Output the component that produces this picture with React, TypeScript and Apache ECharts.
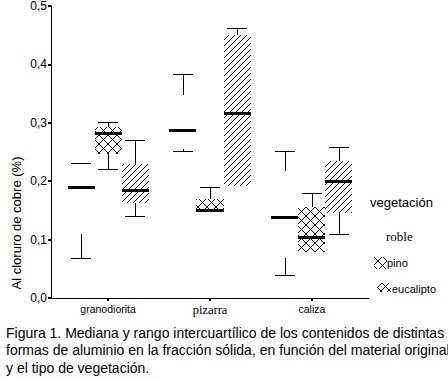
import React, { useEffect, useRef } from 'react';
import * as echarts from 'echarts';

// ---- data ----
const categories = ['granodiorita', 'pizarra', 'caliza'];
const serifCategories = ['pizarra'];
const vegetation = ['roble', 'pino', 'eucalipto'];
// each row: [min, Q1, median, Q3, max]
const robleBoxes = [
  [0.069, 0.109, 0.19, 0.229, 0.231],
  [0.252, 0.255, 0.287, 0.347, 0.383],
  [0.04, 0.069, 0.139, 0.218, 0.252],
];
const pinoBoxes = [
  [0.221, 0.247, 0.282, 0.292, 0.301],
  [0.149, 0.149, 0.151, 0.17, 0.19],
  [0.078, 0.078, 0.105, 0.155, 0.18],
];
const eucaliptoBoxes = [
  [0.141, 0.163, 0.185, 0.229, 0.27],
  [0.192, 0.192, 0.316, 0.451, 0.463],
  [0.11, 0.146, 0.2, 0.235, 0.258],
];
const yAxisTitle = 'Al cloruro de cobre (%)';
const legendTitle = 'vegetación';
const captionLines = [
  'Figura 1. Mediana y rango intercuartílico de los contenidos de distintas',
  'formas de aluminio en la fracción sólida, en función del material original',
  'y el tipo de vegetación.',
];

// ---- styling ----
const SANS = '"Liberation Sans", Arial, sans-serif';
const SERIF = '"Liberation Serif", "Times New Roman", serif';
const BOX_W = 0.265;
const CAP_W = 0.2;
const OFFSETS = [-0.265, 0, 0.265];
const HATCH = ['none', 'cross', 'diag'];

function hatch(x0: number, y0: number, x1: number, y1: number, step: number, dir: string) {
  const segs: number[][] = [];
  if (dir === '/') {
    const cStart = Math.ceil((x0 + y0) / step) * step;
    for (let c = cStart; c <= x1 + y1; c += step) {
      const xa = Math.max(x0, c - y1);
      const xb = Math.min(x1, c - y0);
      if (xb > xa) segs.push([xa, c - xa, xb, c - xb]);
    }
  } else {
    const cStart = Math.ceil((x0 - y1) / step) * step;
    for (let c = cStart; c <= x1 - y0; c += step) {
      const xa = Math.max(x0, c + y0);
      const xb = Math.min(x1, c + y1);
      if (xb > xa) segs.push([xa, xa - c, xb, xb - c]);
    }
  }
  return segs.map((s) => ({
    type: 'line',
    shape: { x1: s[0], y1: s[1], x2: s[2], y2: s[3] },
    style: { stroke: '#000', lineWidth: 1 },
    silent: true,
  }));
}

function hatchFor(kind: string, x0: number, y0: number, x1: number, y1: number) {
  if (kind === 'cross') return [...hatch(x0, y0, x1, y1, 9, '/'), ...hatch(x0, y0, x1, y1, 9, '\\')];
  if (kind === 'diag') return hatch(x0, y0, x1, y1, 6, '/');
  return [];
}

const line = (x1: number, y1: number, x2: number, y2: number) => ({
  type: 'line',
  shape: { x1, y1, x2, y2 },
  style: { stroke: '#000', lineWidth: 1 },
});

function makeRenderer(kind: string, offset: number) {
  return (params: any, api: any) => {
    const xi = api.value(0);
    const unit = api.size([1, 0])[0];
    const cx = api.coord([xi, 0])[0] + offset * unit;
    const bw = BOX_W * unit;
    const cw = CAP_W * unit;
    const y = [1, 2, 3, 4, 5].map((d) => api.coord([xi, api.value(d)])[1]);
    const [yMin, yQ1, yMed, yQ3, yMax] = y;
    const x0 = Math.round(cx - bw / 2);
    const x1 = Math.round(cx + bw / 2);
    const xc = Math.round(cx) + 0.5;
    const children: any[] = [];
    children.push(...hatchFor(kind, x0, Math.round(yQ3), x1, Math.round(yQ1)));
    if (api.value(5) > api.value(4)) {
      const yy = Math.round(yMax) + 0.5;
      children.push(line(xc, yy, xc, Math.round(yQ3)));
      children.push(line(Math.round(cx - cw / 2), yy, Math.round(cx + cw / 2), yy));
    }
    if (api.value(1) < api.value(2)) {
      const yy = Math.round(yMin) + 0.5;
      children.push(line(xc, yy, xc, Math.round(yQ1)));
      children.push(line(Math.round(cx - cw / 2), yy, Math.round(cx + cw / 2), yy));
    }
    children.push({
      type: 'rect',
      shape: { x: x0, y: Math.round(yMed) - 1, width: x1 - x0, height: 3 },
      style: { fill: '#000' },
    });
    return { type: 'group', children };
  };
}

export default function App() {
  const ref = useRef<HTMLDivElement>(null);
  useEffect(() => {
    document.body.style.margin = '0';
    const chart = echarts.init(ref.current!, null, { renderer: 'svg' });
    const allBoxes = [robleBoxes, pinoBoxes, eucaliptoBoxes];

    const legendGraphics: any[] = [
      { type: 'text', left: 370, top: 196, style: { text: legendTitle, font: `13px ${SANS}`, fill: '#000' } },
      { type: 'text', left: 386, top: 230, style: { text: vegetation[0], font: `13px ${SERIF}`, fill: '#000' } },
      { type: 'group', children: hatchFor('cross', 374, 257, 387, 269) },
      { type: 'text', left: 387, top: 257, style: { text: vegetation[1], font: `11px ${SANS}`, fill: '#000' } },
      { type: 'group', children: [...hatch(377, 283, 391, 292, 7, '/'), ...hatch(377, 283, 391, 292, 9, '\\')] },
      { type: 'text', left: 392, top: 283, style: { text: vegetation[2], font: `11px ${SANS}`, fill: '#000' } },
    ];

    chart.setOption({
      animation: false,
      grid: { left: 51, right: 79, top: 4, bottom: 82 },
      xAxis: {
        type: 'value',
        min: -0.56,
        max: 2.56,
        splitLine: { show: false },
        axisLine: { show: true, onZero: false, lineStyle: { color: '#000', width: 1 } },
        axisTick: { show: true, customValues: [0, 1, 2], length: 3, lineStyle: { color: '#000', width: 2 } },
        axisLabel: {
          customValues: [0, 1, 2],
          margin: 5,
          color: '#000',
          fontFamily: SANS,
          fontSize: 10.5,
          formatter: (v: number) => {
            const name = categories[Math.round(v)];
            return serifCategories.includes(name) ? `{s|${name}}` : name;
          },
          rich: { s: { fontFamily: SERIF, fontSize: 12.5, color: '#000' } },
        },
      },
      yAxis: {
        type: 'value',
        min: 0,
        max: 0.5,
        interval: 0.1,
        splitLine: { show: false },
        axisLine: { show: true, onZero: false, lineStyle: { color: '#000', width: 1 } },
        axisTick: { show: true, length: 3, lineStyle: { color: '#000', width: 2 } },
        axisLabel: {
          margin: 4,
          color: '#000',
          fontFamily: SANS,
          fontSize: 12,
          formatter: (v: number) => v.toFixed(1).replace('.', ','),
        },
      },
      graphic: [
        {
          type: 'text',
          x: 16,
          y: 223,
          rotation: Math.PI / 2,
          style: { text: yAxisTitle, font: `13px ${SANS}`, fill: '#000', align: 'center', verticalAlign: 'middle' },
        },
        ...legendGraphics,
        {
          type: 'text',
          left: 6,
          top: 324,
          style: { text: captionLines.join('\n'), font: `14px ${SANS}`, lineHeight: 17.5, fill: '#000' },
        },
      ],
      series: vegetation.map((name, i) => ({
        type: 'custom',
        name,
        renderItem: makeRenderer(HATCH[i], OFFSETS[i]),
        encode: { x: 0, y: [1, 2, 3, 4, 5] },
        data: allBoxes[i].map((b, ci) => [ci, ...b]),
        clip: false,
      })),
    });
    return () => chart.dispose();
  }, []);
  return <div ref={ref} style={{ width: 448, height: 380 }} />;
}
